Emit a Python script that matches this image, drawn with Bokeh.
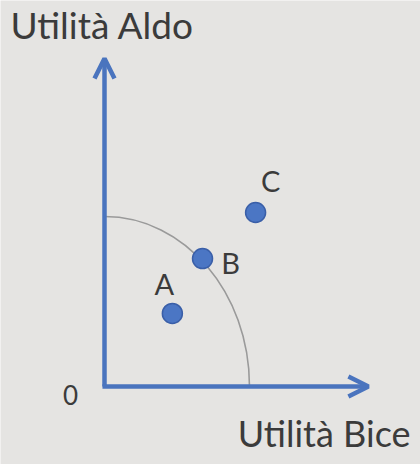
from bokeh.plotting import figure
from bokeh.models import Range1d, Arrow, OpenHead, Label, ColumnDataSource
from bokeh.core.properties import value
from bokeh.embed import file_html
from bokeh.resources import INLINE

# Data (utility units)
point_names = ["A", "B", "C"]
util_bice = [2.34, 3.38, 5.21]
util_aldo = [2.52, 4.41, 6.00]
frontier_max_bice = 5.0
frontier_max_aldo = 5.86
axis_max_bice = 9.1
axis_max_aldo = 11.31

BG = "#e5e4e2"
BLUE = "#4a74be"
TXT = "#3b3b3b"
FONT = "Lato"

W, H = 420, 464
ppu = 29.0
ox, oy = 104, 78  # origin in screen px from left / bottom

p = figure(width=W, height=H, output_backend="svg", toolbar_location=None,
           x_range=Range1d(-ox / ppu, (W - ox) / ppu),
           y_range=Range1d(-oy / ppu, (H - oy) / ppu),
           min_border=0)
p.axis.visible = False
p.grid.visible = False
p.outline_line_color = None
p.background_fill_color = BG
p.border_fill_color = BG

# frontier: quarter ellipse via cubic bezier
k = 0.5523
p.bezier(x0=[0], y0=[frontier_max_aldo], x1=[frontier_max_bice], y1=[0],
         cx0=[k * frontier_max_bice], cy0=[frontier_max_aldo],
         cx1=[frontier_max_bice], cy1=[k * frontier_max_aldo],
         line_color="#9a9a9a", line_width=1.6)

# axes as arrows
p.add_layout(Arrow(x_start=0, y_start=0, x_end=0, y_end=axis_max_aldo,
                   line_color=BLUE, line_width=4.5,
                   end=OpenHead(size=20, line_color=BLUE, line_width=4.5)))
p.add_layout(Arrow(x_start=-0.07, y_start=0, x_end=axis_max_bice, y_end=0,
                   line_color=BLUE, line_width=4.5,
                   end=OpenHead(size=20, line_color=BLUE, line_width=4.5)))

src = ColumnDataSource(dict(x=util_bice, y=util_aldo, name=point_names,
                            dx=[-8, 28, 15], dy=[-30, 4, -32]))
p.scatter("x", "y", source=src, size=20, fill_color="#4b76c4",
          line_color="#3a5fa8", line_width=1.5)
p.text("x", "y", text="name", source=src, x_offset="dx", y_offset="dy",
       text_font=value(FONT), text_font_size="29px", text_color=TXT,
       text_align="center", text_baseline="middle")

p.add_layout(Label(x=10, y=463, x_units="screen", y_units="screen",
                   text="Utilità Aldo", text_font=FONT, text_font_size="37px",
                   text_color=TXT, text_baseline="top"))
p.add_layout(Label(x=410, y=32, x_units="screen", y_units="screen",
                   text="Utilità Bice", text_font=FONT, text_font_size="36px",
                   text_color=TXT, text_baseline="alphabetic", text_align="right"))
p.add_layout(Label(x=0, y=0, x_offset=-34, y_offset=-8,
                   text="0", text_font=FONT, text_font_size="26px",
                   text_color=TXT, text_baseline="alphabetic", text_align="center"))

open("out.html", "w").write(file_html(p, INLINE))
